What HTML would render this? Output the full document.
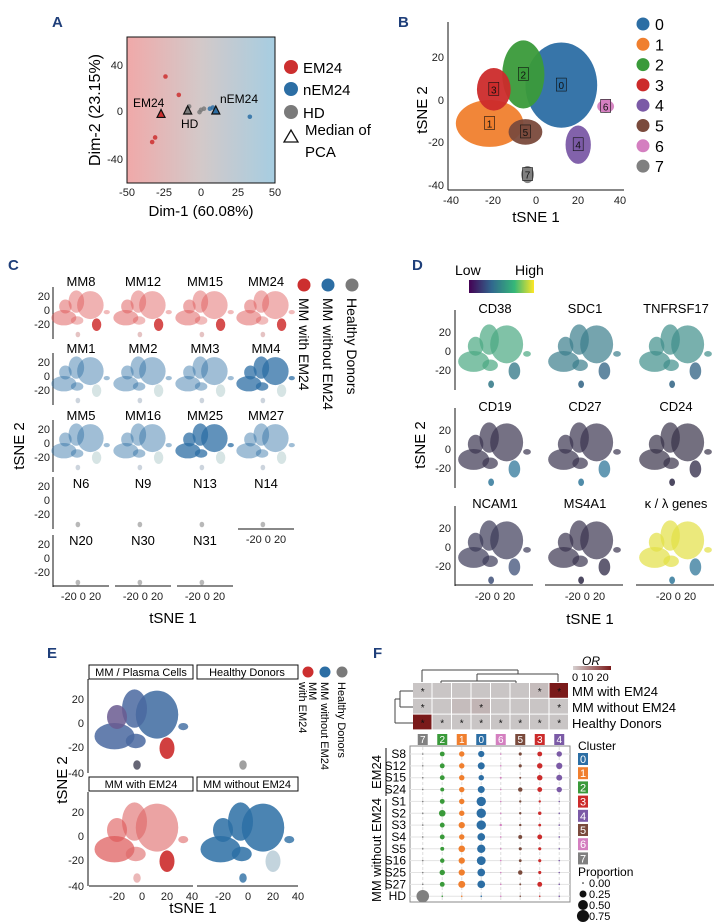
<!DOCTYPE html>
<html><head><meta charset="utf-8">
<style>
html,body{margin:0;padding:0;background:#fff;}
svg{display:block;font-family:"Liberation Sans",sans-serif;}
.pl{font-weight:bold;fill:#1f3f7a;font-size:15px;}
.tk{font-size:11px;fill:#222;}
</style></head>
<body>
<svg id="fig" width="727" height="924" viewBox="0 0 727 924" xmlns="http://www.w3.org/2000/svg">
<defs>
<linearGradient id="gA" x1="0" x2="1" y1="0" y2="0">
<stop offset="0" stop-color="#f0a9a9"/><stop offset="0.5" stop-color="#d3c9c9"/><stop offset="1" stop-color="#a6cde1"/></linearGradient>
<linearGradient id="gV" x1="0" x2="1"><stop offset="0" stop-color="#440154"/><stop offset="0.35" stop-color="#31688e"/><stop offset="0.7" stop-color="#35b779"/><stop offset="1" stop-color="#fde725"/></linearGradient>
<linearGradient id="gOR" x1="0" x2="1"><stop offset="0" stop-color="#d6d0d0"/><stop offset="1" stop-color="#7a1a1a"/></linearGradient>
</defs>

<!-- Panel A -->
<text class="pl" x="52" y="27">A</text>
<rect x="127" y="37" width="148" height="146" fill="url(#gA)" stroke="#111" stroke-width="1"/>
<g id="pA"></g>
<g class="tk" text-anchor="end">
<text x="123" y="69">40</text><text x="123" y="115">0</text><text x="123" y="163">-40</text></g>
<g class="tk" text-anchor="middle">
<text x="127" y="196">-50</text><text x="164" y="196">-25</text><text x="201" y="196">0</text><text x="238" y="196">25</text><text x="275" y="196">50</text></g>
<text x="201" y="216" font-size="15" text-anchor="middle">Dim-1 (60.08%)</text>
<text transform="translate(100,110) rotate(-90)" font-size="16" text-anchor="middle">Dim-2 (23.15%)</text>
<text x="133" y="107" font-size="12">EM24</text>
<text x="181" y="128" font-size="12">HD</text>
<text x="220" y="103" font-size="12">nEM24</text>
<g>
<circle cx="291" cy="67" r="7" fill="#cc2f2f"/><text x="303" y="73" font-size="15">EM24</text>
<circle cx="291" cy="89" r="7" fill="#2c6ea4"/><text x="303" y="95" font-size="15">nEM24</text>
<circle cx="291" cy="112" r="7" fill="#7a7a7a"/><text x="303" y="118" font-size="15">HD</text>
<polygon points="284,142 298,142 291,130" fill="none" stroke="#111" stroke-width="1.3"/>
<text x="305" y="135" font-size="15">Median of</text><text x="305" y="157" font-size="15">PCA</text></g>

<!-- Panel B -->
<text class="pl" x="398" y="27">B</text>
<line x1="448" y1="22" x2="448" y2="190" stroke="#111"/>
<line x1="448" y1="190" x2="624" y2="190" stroke="#111"/>
<g id="pB"></g>
<g class="tk" text-anchor="end">
<text x="444" y="61">20</text><text x="444" y="104">0</text><text x="444" y="146">-20</text><text x="444" y="189">-40</text></g>
<g class="tk" text-anchor="middle">
<text x="451" y="204">-40</text><text x="493" y="204">-20</text><text x="536" y="204">0</text><text x="578" y="204">20</text><text x="620" y="204">40</text></g>
<text x="536" y="222" font-size="15" text-anchor="middle">tSNE 1</text>
<text transform="translate(427,110) rotate(-90)" font-size="15" text-anchor="middle">tSNE 2</text>
<g id="legB"></g>

<!-- Panel C -->
<text class="pl" x="8" y="270">C</text>
<g id="pC"></g>
<text x="173" y="623" font-size="15" text-anchor="middle">tSNE 1</text>
<text transform="translate(24,446) rotate(-90)" font-size="15" text-anchor="middle">tSNE 2</text>
<g>
<circle cx="304" cy="285" r="6.5" fill="#cc2f2f"/><circle cx="328" cy="285" r="6.5" fill="#2c6ea4"/><circle cx="352" cy="285" r="6.5" fill="#7a7a7a"/>
<text transform="translate(299,298) rotate(90)" font-size="14">MM with EM24</text>
<text transform="translate(323,298) rotate(90)" font-size="14">MM without EM24</text>
<text transform="translate(347,298) rotate(90)" font-size="14">Healthy Donors</text></g>

<!-- Panel D -->
<text class="pl" x="412" y="270">D</text>
<text x="455" y="275" font-size="14">Low</text>
<text x="515" y="275" font-size="14">High</text>
<rect x="469" y="280" width="65" height="13" fill="url(#gV)"/>
<g id="pD"></g>
<text x="590" y="624" font-size="15" text-anchor="middle">tSNE 1</text>
<text transform="translate(425,445) rotate(-90)" font-size="15" text-anchor="middle">tSNE 2</text>

<!-- Panel E -->
<text class="pl" x="47" y="658">E</text>
<g id="pE"></g>
<text x="193" y="913" font-size="15" text-anchor="middle">tSNE 1</text>
<text transform="translate(67,780) rotate(-90)" font-size="15" text-anchor="middle">tSNE 2</text>
<g>
<circle cx="308" cy="672" r="5.5" fill="#cc2f2f"/><circle cx="325" cy="672" r="5.5" fill="#2c6ea4"/><circle cx="342" cy="672" r="5.5" fill="#7a7a7a"/>
<text transform="translate(309,682) rotate(90)" font-size="11">MM</text>
<text transform="translate(299,682) rotate(90)" font-size="11">with EM24</text>
<text transform="translate(321,682) rotate(90)" font-size="11">MM without EM24</text>
<text transform="translate(338,682) rotate(90)" font-size="11">Healthy Donors</text></g>

<!-- Panel F -->
<text class="pl" x="373" y="658">F</text>
<text x="591" y="665" font-size="12" font-style="italic" text-anchor="middle">OR</text>
<rect x="573" y="666" width="38" height="4" fill="url(#gOR)"/>
<text x="572" y="681" font-size="11">0 10 20</text>
<g id="pF"></g>
<g font-size="13">
<text x="572" y="696">MM with EM24</text><text x="572" y="712">MM without EM24</text><text x="572" y="728">Healthy Donors</text></g>
<text x="578" y="750" font-size="12">Cluster</text>
<g id="legF"></g>
<text x="578" y="876" font-size="12">Proportion</text>
<g id="propLeg"></g>
<text transform="translate(381,772) rotate(-90)" font-size="13" text-anchor="middle">EM24</text>
<line x1="386" y1="748" x2="386" y2="796" stroke="#111"/>
<text transform="translate(381,850) rotate(-90)" font-size="13" text-anchor="middle">MM without EM24</text>
<line x1="386" y1="799" x2="386" y2="890" stroke="#111"/>
</svg>

<script>
const NS="http://www.w3.org/2000/svg";
function el(tag,attrs,parent){const e=document.createElementNS(NS,tag);for(const k in attrs)e.setAttribute(k,attrs[k]);parent.appendChild(e);return e;}

const clusterColors=["#2c6ea4","#f07f2e","#3a9a3a","#cc2b2b","#7b5aa6","#7a4a3c","#d47fc0","#808080"];
// tSNE cluster centres and spreads (tSNE units)
const clusterX=[12,-22,-6,-20,20,-5,33,-4];
const clusterY=[7,-11,12,5,-21,-15,-3,-35];
const clusterRx=[17,16,10,8,6,8,4,3];
const clusterRy=[20,11,16,10,9,6,3,4];

// Panel A data
const pcaGroups=["EM24","EM24","EM24","EM24","HD","HD","HD","HD","HD","nEM24","nEM24","nEM24"];
const pcaX=[-24,-15,-31,-33,-9,-8,0,2,-1,6,8,33];
const pcaY=[30,14,-23,-27,2,4,1,2,-1,2,3,-5];
const medianGroups=["EM24","HD","nEM24"];
const medianX=[-27,-9,10];
const medianY=[-3,0,0];
const groupColor={EM24:"#cc2f2f",nEM24:"#2c6ea4",HD:"#7a7a7a"};

(function(){
 const g=document.getElementById('pA');
 const sx=v=>201+v*1.48, sy=v=>111-v*1.15;
 pcaX.forEach((x,i)=>{const c=el('circle',{cx:sx(x),cy:sy(pcaY[i]),r:2.3,fill:groupColor[pcaGroups[i]],opacity:0.85},g);
  
  });
 medianX.forEach((x,i)=>{const X=sx(x),Y=sy(medianY[i]);
  const p=el('polygon',{points:`${X-4},${Y+3} ${X+4},${Y+3} ${X},${Y-5}`,fill:groupColor[medianGroups[i]],stroke:"#111","stroke-width":1.2},g);
  
  });
})();

function blobs(g,cx0,cy0,sx,sy,colors,opac){
 clusterX.forEach((x,i)=>{if(!colors[i])return;
  const e=el('ellipse',{cx:cx0+x*sx,cy:cy0-clusterY[i]*sy,rx:clusterRx[i]*sx,ry:clusterRy[i]*sy,fill:colors[i],opacity:opac[i]},g);
  
  });
}

// Panel B
(function(){
 const g=document.getElementById('pB');
 blobs(g,536,100,2.11,2.13,clusterColors,[0.95,0.95,0.95,0.95,0.95,0.95,0.95,0.95]);
 clusterX.forEach((x,i)=>{const X=536+x*2.11,Y=100-clusterY[i]*2.13;
  const r=el('rect',{x:X-5,y:Y-7,width:10,height:13,fill:clusterColors[i],stroke:"#111","stroke-width":0.6},g);
  
  
  const t=el('text',{x:X,y:Y+4,"text-anchor":"middle","font-size":10,fill:"#111"},g);t.textContent=i;
  
  });
 const L=document.getElementById('legB');
 clusterColors.forEach((c,i)=>{const y=24+i*20.3;
  const d=el('circle',{cx:643,cy:y,r:6.5,fill:c},L);
  
  
  const t=el('text',{x:655,y:y+6,"font-size":16},L);t.textContent=i;
  
  });
})();

// Panel C
const cSamples=[["MM8","MM12","MM15","MM24"],["MM1","MM2","MM3","MM4"],["MM5","MM16","MM25","MM27"],["N6","N9","N13","N14"],["N20","N30","N31"]];
const cGroup=["red","blue","blue","grey","grey"];
(function(){
 const g=document.getElementById('pC');
 const colX=[53,115,177,238], rowTop=[287,353,420,477,535], rowH=[52,52,52,52,52];
 const titleY=[281,348,415,483,540];
 cSamples.forEach((row,r)=>{
  const top=rowTop[r];
  [["20",9],["0",23],["-20",37]].forEach(([lab,o])=>{const t=el('text',{x:50,y:top+o+4,"text-anchor":"end",class:"tk"},g);t.textContent=lab;
   
   });
  const ax=el('line',{x1:53,y1:top,x2:53,y2:top+rowH[r],stroke:"#111"},g);
  
  
  row.forEach((s,c)=>{const x0=colX[c];const cx=x0+28, cy=top+23;
   let col,op;
   if(cGroup[r]==="red"){col=["#d55","#d55","#d55","#d55","#c22","#d55","#d55","#c88"];op=[0.45,0.5,0.45,0.5,0.8,0.4,0.4,0.5];}
   else if(cGroup[r]==="blue"){const k=(s==="MM4"||s==="MM25")?0.75:0.45;col=["#2c6ea4","#2c6ea4","#2c6ea4","#2c6ea4","#9bb","#2c6ea4","#2c6ea4","#9ab"];op=[k,k,k,k,0.4,k,k,0.5];}
   else {col=[null,null,null,null,null,null,null,"#888"];op=[0,0,0,0,0,0,0,0.6];}
   blobs(g,cx,cy,0.78,0.7,col,op);
   const t=el('text',{x:cx,y:titleY[r]+5,"text-anchor":"middle","font-size":13},g);t.textContent=s;
   
   
   const hasX=(r===4)||(r===3&&c===3);
   if(hasX){const by=r===4?586:529;
    const l=el('line',{x1:x0,y1:by,x2:x0+56,y2:by,stroke:"#111"},g);
    
    
    const tl=el('text',{x:cx,y:by+14,"text-anchor":"middle",class:"tk"},g);tl.textContent="-20 0 20";
    
    }
  });});
})();

// Panel D
const dGenes=["CD38","SDC1","TNFRSF17","CD19","CD27","CD24","NCAM1","MS4A1","κ / λ genes"];
const dMain=["#4aa882","#3b7d8c","#3f8f8a","#3a3550","#3a3550","#383248","#3c3a58","#3a3550","#e3df45"];
const dMinor=["#3b7d8c","#3b6a8a","#3b6a8a","#3d7fa0","#3d7fa0","#3a3550","#4a5a80","#3a3550","#3d7fa0"];
(function(){
 const g=document.getElementById('pD');
 const colX=[455,545,636], rowTop=[315,413,511], titleY=[308,406,503];
 dGenes.forEach((gn,i)=>{const r=Math.floor(i/3),c=i%3;const x0=colX[c],top=rowTop[r];
  const cx=x0+40, cy=top+36;
  const cols=clusterColors.map((_,k)=>(k===4||k===7)?dMinor[i]:dMain[i]);
  blobs(g,cx,cy,0.97,0.95,cols,[0.7,0.7,0.7,0.7,0.8,0.7,0.7,0.9]);
  const t=el('text',{x:cx,y:titleY[r]+5,"text-anchor":"middle","font-size":13},g);t.textContent=gn;
  
  
  if(c===0){const ax=el('line',{x1:455,y1:top-5,x2:455,y2:top+75,stroke:"#111"},g);
   
   
   [["20",17],["0",36],["-20",55]].forEach(([lab,o])=>{const tt=el('text',{x:451,y:top+o+4,"text-anchor":"end",class:"tk"},g);tt.textContent=lab;
    
    });}
  if(r===2){const l=el('line',{x1:x0,y1:585,x2:x0+78,y2:585,stroke:"#111"},g);
   
   
   const tl=el('text',{x:cx,y:600,"text-anchor":"middle",class:"tk"},g);tl.textContent="-20  0  20";
   
   }
 });
})();

// Panel E
const eTitles=["MM / Plasma Cells","Healthy Donors","MM with EM24","MM without EM24"];
(function(){
 const g=document.getElementById('pE');
 const colX=[89,197], stripY=[665,777], plotTop=[679,792];
 eTitles.forEach((tt,i)=>{const r=Math.floor(i/2),c=i%2;const x0=colX[c];
  const s=el('rect',{x:x0,y:stripY[r],width:c?101:104,height:14,fill:"#fff",stroke:"#111"},g);
  
  
  const t=el('text',{x:x0+(c?50:52),y:stripY[r]+11,"text-anchor":"middle","font-size":11},g);t.textContent=tt;
  
  
  const cx=c?248:142, cy=plotTop[r]+44;
  let cols,op;
  if(i===0){cols=["#3d6aa0","#4a68a0","#4a68a0","#6a5a90","#cc2b2b","#4a68a0","#3d6aa0","#556"];op=[0.85,0.85,0.85,0.85,0.9,0.85,0.8,0.9];}
  else if(i===1){cols=[null,null,null,null,null,null,null,"#888"];op=[0,0,0,0,0,0,0,0.8];}
  else if(i===2){cols=["#d66","#d55","#d66","#d55","#cc2b2b","#d66","#d66","#d88"];op=[0.6,0.7,0.6,0.6,0.9,0.6,0.6,0.6];}
  else {cols=["#2c6ea4","#2c6ea4","#2c6ea4","#2c6ea4","#8ab","#2c6ea4","#2c6ea4","#2c6ea4"];op=[0.85,0.85,0.85,0.85,0.5,0.85,0.8,0.8];}
  blobs(g,cx,cy,1.25,1.2,cols,op);
  if(c===0){const top=plotTop[r];const ax=el('line',{x1:88,y1:top,x2:88,y2:top+94,stroke:"#111"},g);
   
   
   [["20",20],["0",44],["-20",68],["-40",94]].forEach(([lab,o])=>{const tk=el('text',{x:84,y:top+o+4,"text-anchor":"end",class:"tk"},g);tk.textContent=lab;
    
    });}
  if(r===1){const l=el('line',{x1:x0,y1:886,x2:x0+(c?101:104),y2:886,stroke:"#111"},g);
   
   
   const base=c?248:142;
   [["-20",-20],["0",0],["20",20],["40",40]].forEach(([lab,v])=>{const tk=el('text',{x:base+v*1.25,y:900,"text-anchor":"middle",class:"tk"},g);tk.textContent=lab;
    
    });}
 });
})();

// Panel F data
const fClusters=[7,2,1,0,6,5,3,4];
const fGroups=["MM with EM24","MM without EM24","Healthy Donors"];
const orValues=[[0,0,0,0,0,0,1,20],[0,0,1,2,0,0,0,0],[20,0,0,0,0,0,0,0]];
const orStars=[[1,0,0,0,0,0,1,1],[1,0,0,1,0,0,0,1],[1,1,1,1,1,1,1,1]];
const fSamples=["S8","S12","S15","S24","S1","S2","S3","S4","S5","S16","S25","S27","HD"];
const propS8=[0.01,0.12,0.15,0.2,0.01,0.05,0.12,0.15];
const propS12=[0.01,0.12,0.15,0.25,0.01,0.05,0.15,0.2];
const propS15=[0.01,0.12,0.15,0.15,0.02,0.02,0.15,0.18];
const propS24=[0.01,0.08,0.15,0.25,0.01,0.1,0.12,0.15];
const propS1=[0.01,0.12,0.15,0.45,0.01,0.03,0.03,0.01];
const propS2=[0.01,0.22,0.15,0.45,0.01,0.03,0.06,0.01];
const propS3=[0.01,0.12,0.2,0.45,0.03,0.03,0.04,0.01];
const propS4=[0.01,0.12,0.15,0.3,0.01,0.08,0.12,0.01];
const propS5=[0.01,0.08,0.22,0.35,0.01,0.05,0.05,0.01];
const propS16=[0.01,0.1,0.2,0.4,0.01,0.04,0.05,0.01];
const propS25=[0.01,0.15,0.2,0.3,0.01,0.1,0.05,0.01];
const propS27=[0.01,0.12,0.25,0.3,0.01,0.02,0.12,0.01];
const propHD=[0.8,0.01,0.01,0.01,0.005,0.005,0.005,0.005];
const proportions=[propS8,propS12,propS15,propS24,propS1,propS2,propS3,propS4,propS5,propS16,propS25,propS27,propHD];
const propLegendValues=[0,0.25,0.5,0.75];

(function(){
 const g=document.getElementById('pF');
 const colXf=i=>413+19.5*i+9.75, rowYh=r=>683+r*15.8, rowYd=r=>754+r*11.85;
 const rad=p=>Math.max(0.8,Math.sqrt(p)*7);
 const orColor=v=>{const t=Math.min(1,v/20);const a=[201,197,197],b=[122,26,26];return `rgb(${a.map((x,k)=>Math.round(x+(b[k]-x)*t)).join(',')})`;};
 [[422,682,422,670],[422,670,518,670],[518,670,518,674],[477,674,558,674],[477,674,477,681],[558,674,558,682],[441,681,516,681],[441,681,441,683],[516,681,516,683],
  [395,699,395,723],[395,723,413,723],[395,699,400,699],[400,691,400,707],[400,691,413,691],[400,707,413,707]].forEach(s=>{
  const l=el('line',{x1:s[0],y1:s[1],x2:s[2],y2:s[3],stroke:"#444","stroke-width":1},g);
  
  });
 orValues.forEach((row,r)=>row.forEach((v,c)=>{
  const rc=el('rect',{x:413+19.5*c,y:rowYh(r),width:18.5,height:14.8,fill:orColor(v)},g);
  
  
  if(orStars[r][c]){const t=el('text',{x:colXf(c),y:rowYh(r)+12,"text-anchor":"middle","font-size":10,fill:"#111"},g);t.textContent="*";
   
   }
 }));
 fClusters.forEach((k,c)=>{const x=colXf(c);
  const r=el('rect',{x:x-5,y:734,width:10,height:11,fill:clusterColors[k]},g);
  
  
  const t=el('text',{x:x,y:743,"text-anchor":"middle","font-size":10,fill:"#fff"},g);t.textContent=k;
  
  
  const vl=el('line',{x1:x,y1:747,x2:x,y2:901,stroke:"#ddd","stroke-dasharray":"3,2"},g);
  
  });
 const box=el('rect',{x:410,y:746,width:160,height:156,fill:"none",stroke:"#888"},g);
 
 
 fSamples.forEach((s,r)=>{const y=rowYd(r);
  const hl=el('line',{x1:410,y1:y,x2:570,y2:y,stroke:"#e3e3e3"},g);
  
  
  const t=el('text',{x:406,y:y+4,"text-anchor":"end","font-size":12},g);t.textContent=s;
  
  
  proportions[r].forEach((p,c)=>{
   const d=el('circle',{cx:colXf(c),cy:y,r:rad(p),fill:clusterColors[fClusters[c]]},g);
   
   });
 });
 const L=document.getElementById('legF');
 clusterColors.forEach((c,i)=>{const y=753+i*14.2;
  const r=el('rect',{x:578,y:y,width:10,height:12,fill:c},L);
  
  
  const t=el('text',{x:583,y:y+10,"text-anchor":"middle","font-size":11,fill:"#fff"},L);t.textContent=i;
  
  });
 const P=document.getElementById('propLeg');
 propLegendValues.forEach((v,i)=>{const y=883+i*11;
  const d=el('circle',{cx:583,cy:y,r:rad(v),fill:"#111"},P);
  
  
  const t=el('text',{x:589,y:y+4,"font-size":11},P);t.textContent=v.toFixed(2);
  
  });
})();
</script>
</body></html>
